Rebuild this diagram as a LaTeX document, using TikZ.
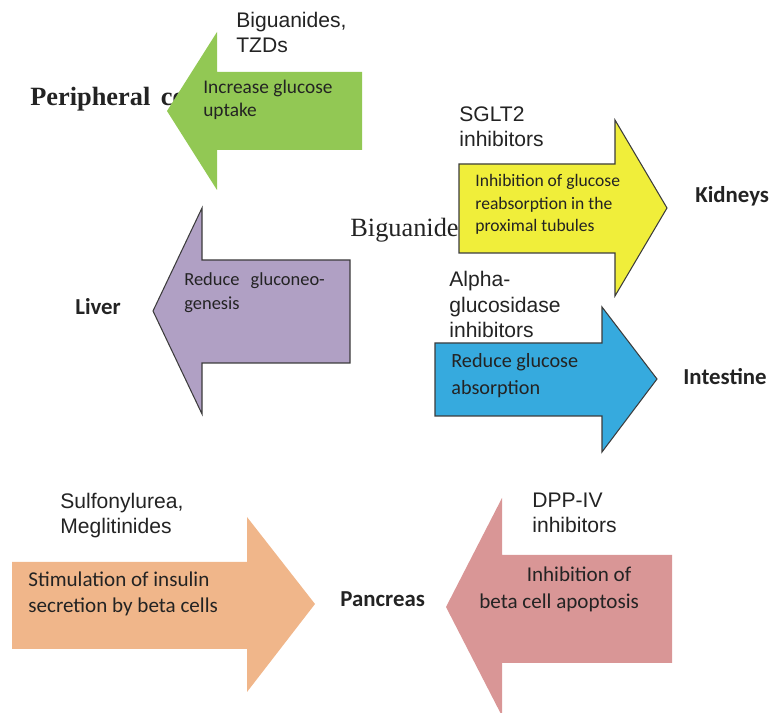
\documentclass[tikz,border=0pt]{standalone}
\usepackage{fontspec}
\setmainfont{Liberation Serif}
\setsansfont{Liberation Sans}
\newfontfamily\carlito{Carlito}
\usetikzlibrary{positioning}
\definecolor{dia_green}{RGB}{146,200,84}
\definecolor{dia_yellow}{RGB}{240,238,58}
\definecolor{dia_purple}{RGB}{176,160,196}
\definecolor{dia_blue}{RGB}{54,170,222}
\definecolor{dia_orange}{RGB}{240,182,138}
\definecolor{dia_pink}{RGB}{217,150,150}
\definecolor{dia_edge}{RGB}{60,60,60}
\definecolor{dia_text}{RGB}{35,35,35}

\begin{document}
\begin{tikzpicture}[
      x=0.02cm, y=-0.02cm,
      blk/.style={draw=dia_edge, line width=0.6pt, line join=miter},
      % multi-line labels: placed by the baseline of their last line
      lbl/.style={inner sep=0pt, anchor=base west, align=left, text=dia_text},
      drug/.style={lbl, font=\sffamily\fontsize{12}{14.7}\selectfont},
      organ/.style={lbl, font=\carlito\bfseries\fontsize{13}{15}\selectfont},
      inarr/.style n args={2}{lbl, font=\carlito\fontsize{#1}{#2}\selectfont},
      old/.style={lbl, font=\fontsize{#1}{#1}\selectfont},
    ]
    \useasboundingbox (0,0) rectangle (769,713);

    % peripheral cells
    \node[old=15, font=\fontsize{15}{15}\selectfont\bfseries] (periph) at (30,106)
      {Peripheral\hspace{0.4em}cells};
    \fill[dia_green] (167,111) -- (217,32) -- (217,72) -- (362,72)
      -- (362,150) -- (217,150) -- (217,190) -- cycle;
    \node[drug] (bigtzd) at (236,53) {Biguanides,\\TZDs};
    \node[inarr={11}{13.6}] (uptake) at (203,117) {Increase glucose\\uptake};

    % kidneys
    \node[old=15] (bigu) at (350,237) {Biguanides};
    \filldraw[blk, fill=dia_yellow] (459,164) -- (615,164) -- (615,120)
      -- (667,208) -- (615,296) -- (615,253) -- (459,253) -- cycle;
    \node[drug] (sglt) at (459,147) {SGLT2\\inhibitors};
    \node[inarr={10}{13}] (reabs) at (475,232)
      {Inhibition of glucose\\reabsorption in the\\proximal tubules};
    \node[organ] (kidney) at (695,203) {Kidneys};

    % liver
    \filldraw[blk, fill=dia_purple] (153,311) -- (202,208) -- (202,260)
      -- (350,260) -- (350,363) -- (202,363) -- (202,414) -- cycle;
    \node[inarr={10.5}{14.2}] (gneo) at (184,310) {Reduce\hspace{0.6em}gluconeo-\\genesis};
    \node[organ] (liver) at (75,315) {Liver};

    % intestine
    \filldraw[blk, fill=dia_blue] (435,343) -- (602,343) -- (602,307)
      -- (657,379) -- (602,452) -- (602,416) -- (435,416) -- cycle;
    \node[drug] (alpha) at (449,338) {Alpha-\\glucosidase\\inhibitors};
    \node[inarr={11.5}{15.9}] (absorb) at (451,395) {Reduce glucose\\absorption};
    \node[organ] (intest) at (683,385) {Intestine};

    % pancreas, both sides
    \fill[dia_orange] (12,562) -- (247,562) -- (247,517) -- (315,604)
      -- (247,692) -- (247,649) -- (12,649) -- cycle;
    \node[drug] (sulfo) at (60,534) {Sulfonylurea,\\Meglitinides};
    \node[inarr={12}{15.3}] (insulin) at (28,613)
      {Stimulation of insulin\\secretion by beta cells};
    \node[organ] (panc) at (340,607) {Pancreas};
    \fill[dia_pink] (446,607) -- (502,498) -- (502,555) -- (672,555)
      -- (672,663) -- (502,663) -- (502,716) -- cycle;
    \node[drug] (dpp) at (532,533) {DPP-IV\\inhibitors};
    \node[inarr={12}{15.9}] (apopt) at (479,609)
      {\hspace{27pt}Inhibition of\\beta cell apoptosis};
\end{tikzpicture}
\end{document}
